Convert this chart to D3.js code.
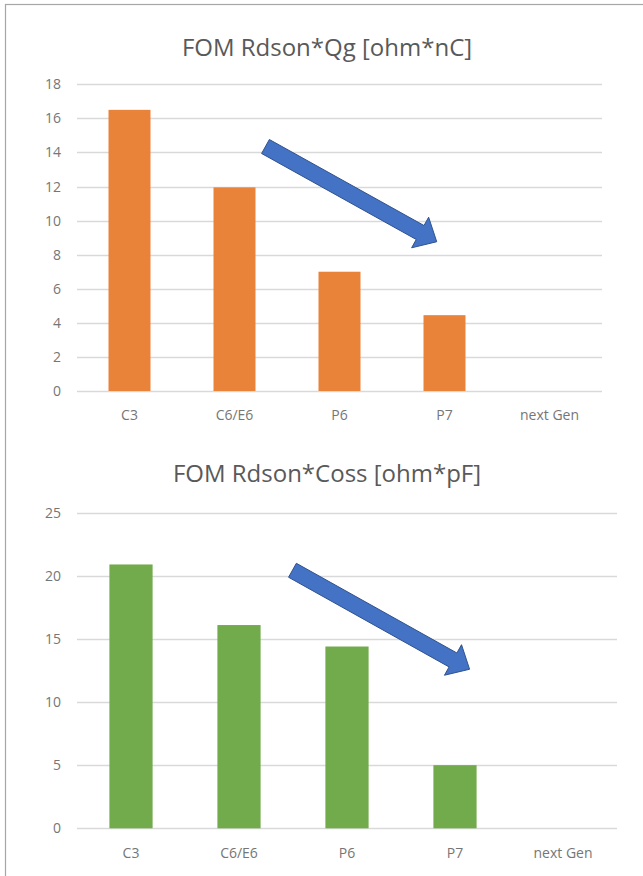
<!DOCTYPE html>
<html>
<head>
<meta charset="utf-8">
<script src="https://cdn.jsdelivr.net/npm/d3@7"></script>
<style>
  html, body { margin: 0; padding: 0; background: #fff; }
  svg { display: block; }
  text { font-family: "Open Sans", "Noto Sans", sans-serif; fill: #595959; }
</style>
</head>
<body>
<svg id="chart" width="643" height="876"></svg>
<script>
// Categories shared by both panels
const categories = ["C3", "C6/E6", "P6", "P7", "next Gen"];

// Panel 1: FOM Rdson*Qg [ohm*nC]
const qgTitle = "FOM Rdson*Qg [ohm*nC]";
const qgValues = [16.5, 11.95, 7.0, 4.45, null];
const qgTicks = [0, 2, 4, 6, 8, 10, 12, 14, 16, 18];

// Panel 2: FOM Rdson*Coss [ohm*pF]
const cossTitle = "FOM Rdson*Coss [ohm*pF]";
const cossValues = [20.9, 16.1, 14.4, 5.0, null];
const cossTicks = [0, 5, 10, 15, 20, 25];

// Trend arrows: [category index, value] for tail and tip
const qgTrend = [[1.295, 14.35], [2.926, 8.76]];
const cossTrend = [[1.495, 20.44], [3.135, 12.6]];

const svg = d3.select("#chart");

// Outer frame
svg.append("rect")
  .attr("x", 5.5).attr("y", 4.5)
  .attr("width", 700).attr("height", 900)
  .attr("fill", "none")
  .attr("stroke", "#a6a6a6")
  .attr("stroke-width", 1.2);

function panel(cfg) {
  const g = svg.append("g");
  const x = d3.scaleBand()
    .domain(categories)
    .range([cfg.x0, cfg.x1])
    .paddingInner(0.6)
    .paddingOuter(0.3);
  const y = d3.scaleLinear()
    .domain([0, d3.max(cfg.ticks)])
    .range([cfg.y0, cfg.y1]);

  // Title
  g.append("text")
    .attr("x", cfg.titleX)
    .attr("y", cfg.titleY)
    .attr("text-anchor", "middle")
    .style("font-size", "24px")
    .style("fill", "#595959")
    .text(cfg.title);

  // Gridlines
  g.selectAll("line.grid").data(cfg.ticks).join("line")
    .attr("class", "grid")
    .attr("x1", cfg.x0).attr("x2", cfg.x1)
    .attr("y1", d => Math.round(y(d)) + 0.5)
    .attr("y2", d => Math.round(y(d)) + 0.5)
    .attr("stroke", "#d9d9d9")
    .attr("stroke-width", 1.3);

  // Y axis labels
  const yAxis = d3.axisLeft(y).tickValues(cfg.ticks).tickSize(0).tickPadding(0);
  const ya = g.append("g")
    .attr("transform", `translate(${cfg.x0 - 16},0)`)
    .call(yAxis);
  ya.select(".domain").remove();
  ya.selectAll("text")
    .style("font-size", "14px")
    .style("fill", "#767676")
    .style("font-family", "\"Open Sans\", sans-serif");

  // Bars
  g.selectAll("rect.bar")
    .data(categories.map((c, i) => ({ c, v: cfg.values[i] })).filter(d => d.v != null))
    .join("rect")
    .attr("class", "bar")
    .attr("x", d => x(d.c))
    .attr("width", x.bandwidth())
    .attr("y", d => y(d.v))
    .attr("height", d => y(0) - y(d.v))
    .attr("fill", cfg.color);

  // Category labels
  const xAxis = d3.axisBottom(x).tickSize(0).tickPadding(0);
  const xa = g.append("g")
    .attr("transform", `translate(0,${cfg.y0 + cfg.catDy})`)
    .call(xAxis);
  xa.select(".domain").remove();
  xa.selectAll("text")
    .attr("dy", 0)
    .style("font-size", "14px")
    .style("fill", "#767676")
    .style("font-family", "\"Open Sans\", sans-serif");

  // Trend arrow, positioned in category-index / value space
  const step = x.step();
  const cx = i => x(categories[0]) + x.bandwidth() / 2 + i * step;
  const [t0, t1] = cfg.trend;
  const p0 = [cx(t0[0]), y(t0[1])];
  const p1 = [cx(t1[0]), y(t1[1])];
  const dx = p1[0] - p0[0], dy = p1[1] - p0[1];
  const len = Math.hypot(dx, dy);
  const ux = dx / len, uy = dy / len;
  const nx = -uy, ny = ux;
  const shaftW = 16, headW = 35, headL = 19;
  const base = [p1[0] - ux * headL, p1[1] - uy * headL];
  const pts = [
    [p0[0] + nx * shaftW / 2, p0[1] + ny * shaftW / 2],
    [base[0] + nx * shaftW / 2, base[1] + ny * shaftW / 2],
    [base[0] + nx * headW / 2, base[1] + ny * headW / 2],
    p1,
    [base[0] - nx * headW / 2, base[1] - ny * headW / 2],
    [base[0] - nx * shaftW / 2, base[1] - ny * shaftW / 2],
    [p0[0] - nx * shaftW / 2, p0[1] - ny * shaftW / 2]
  ];
  g.append("path")
    .attr("d", d3.line()(pts) + "Z")
    .attr("fill", "#4472c4")
    .attr("stroke", "#2f528f")
    .attr("stroke-width", 1)
    .attr("stroke-linejoin", "miter");
}

panel({
  title: qgTitle, values: qgValues, ticks: qgTicks, trend: qgTrend,
  color: "#e9833a",
  x0: 77, x1: 602, y0: 391, y1: 84.3,
  titleX: 327, titleY: 56, catDy: 29
});

panel({
  title: cossTitle, values: cossValues, ticks: cossTicks, trend: cossTrend,
  color: "#72ab4b",
  x0: 77, x1: 617, y0: 828.3, y1: 512.7,
  titleX: 327, titleY: 482, catDy: 29.5
});
</script>
</body>
</html>
